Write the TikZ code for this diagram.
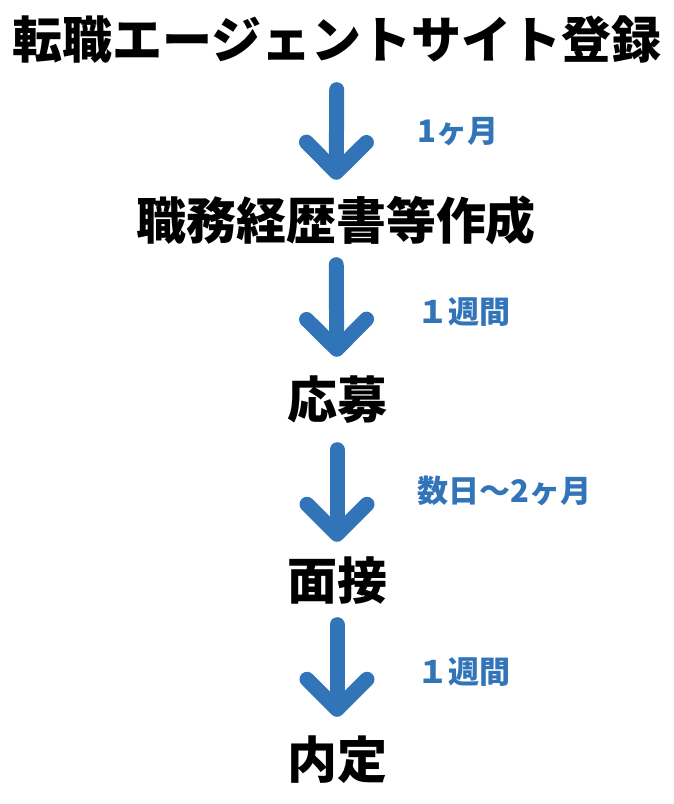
\documentclass[tikz,border=0pt]{standalone}
\usepackage{fontspec}
\setmainfont{Noto Sans CJK JP}
\usepackage{xcolor}
\usetikzlibrary{arrows.meta}
\definecolor{flowblue}{RGB}{50,116,184}
\tikzset{stage/.style = {inner sep = 0, text height = 44pt, text depth = 6pt, font = \fontsize{50}{50}\selectfont\bfseries}}
\tikzset{span/.style = {inner sep = 0, anchor = west, text = flowblue, font = \fontsize{31}{31}\selectfont\bfseries}}
\tikzset{flow/.style = {flowblue, line width = 15pt, line cap = round, -{Straight Barb[round, length = 30pt, width = 60pt]}}}

\begin{document}
\begin{tikzpicture}[x=1pt, y=1pt]
        \useasboundingbox (0,0) rectangle (674,804);
        \node [stage] (reg) at (337,764) {転職エージェントサイト登録};
        \node [stage] (cv) at (336,583) {職務経歴書等作成};
        \node [stage] (apply) at (337,404) {応募};
        \node [stage] (interview) at (337,223) {面接};
        \node [stage] (offer) at (337,44) {内定};
        \draw [flow, shorten <= 24.5pt, shorten >= 16pt] (reg) -- (cv);
        \draw [flow, shorten <= 18.5pt, shorten >= 18pt] (cv) -- (apply);
        \draw [flow, shorten <= 24.5pt, shorten >= 14pt] (apply) -- (interview);
        \draw [flow, shorten <= 18.5pt, shorten >= 18pt] (interview) -- (offer);
        \node [span] (t1) at (417,672) {1ヶ月};
        \node [span] (t2) at (417,492) {１週間};
        \node [span] (t3) at (417,313) {数日〜2ヶ月};
        \node [span] (t4) at (417,132) {１週間};
    \end{tikzpicture}
\end{document}
